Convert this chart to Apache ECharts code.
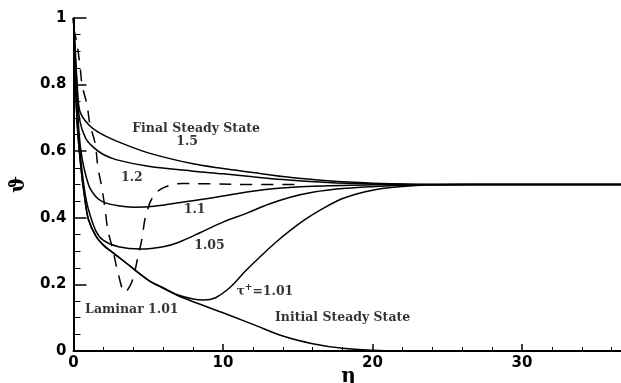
<!DOCTYPE html>
<html lang="en">
  <head>
    <meta charset="UTF-8" />
    <title>theta vs eta</title>
    <script src="https://cdn.jsdelivr.net/npm/echarts@6/dist/echarts.min.js"></script>
    <style>
      html, body { margin: 0; padding: 0; background: #fff; }
    </style>
  </head>
  <body>
    <div id="chart" style="width: 621px; height: 383px"></div>
  </body>
  <script>
    // curve data: [eta, theta]
    const initialState = [[0,1],[0.1,0.86],[0.25,0.68],[0.5,0.55],[0.75,0.46],[1,0.395],[1.5,0.345],[2,0.318],[2.5,0.3],[3.5,0.265],[5,0.213],[6,0.188],[7,0.166],[8,0.148],[10,0.115],[12,0.08],[14,0.045],[16,0.022],[18,0.008],[20,0.002],[22,0]];
    const tau101 = [[0,1],[0.1,0.86],[0.25,0.68],[0.5,0.55],[0.75,0.46],[1,0.395],[1.5,0.345],[2,0.318],[2.5,0.3],[3.5,0.265],[5,0.213],[6,0.19],[7,0.168],[8,0.156],[8.7,0.153],[9.5,0.16],[10.5,0.192],[11.5,0.24],[12.5,0.284],[13.5,0.325],[14.5,0.362],[15.5,0.395],[16.5,0.423],[18,0.458],[20,0.483],[22,0.494],[24,0.499],[26,0.5],[37,0.5]];
    const tau105 = [[0,1],[0.1,0.87],[0.25,0.7],[0.5,0.57],[0.75,0.48],[1,0.425],[1.5,0.36],[2,0.332],[3,0.313],[4.5,0.306],[6,0.313],[7,0.326],[8.5,0.356],[10,0.387],[11.6,0.414],[13,0.44],[14.5,0.462],[16,0.477],[18,0.488],[20.5,0.495],[24,0.499],[27,0.5],[37,0.5]];
    const tau11 = [[0,1],[0.1,0.88],[0.25,0.74],[0.5,0.6],[1,0.5],[1.5,0.463],[2,0.447],[3,0.436],[4,0.432],[5,0.433],[6,0.438],[7,0.445],[9,0.458],[11,0.473],[13,0.486],[16,0.495],[20,0.499],[24,0.5],[37,0.5]];
    const tau12 = [[0,1],[0.1,0.9],[0.25,0.78],[0.43,0.69],[0.8,0.64],[1.3,0.613],[2,0.59],[2.9,0.574],[5,0.555],[8,0.54],[10,0.532],[12,0.523],[14,0.515],[17,0.506],[20,0.502],[24,0.5],[37,0.5]];
    const finalState = [[0,1],[0.1,0.92],[0.25,0.8],[0.43,0.72],[1,0.68],[1.77,0.654],[3,0.628],[5,0.595],[8,0.562],[10,0.548],[12,0.536],[14,0.524],[17,0.511],[20,0.504],[24,0.5],[37,0.5]];
    const laminar = [[0,0.97],[0.2,0.93],[0.43,0.86],[0.57,0.8],[0.9,0.74],[1.1,0.68],[1.44,0.625],[1.64,0.55],[1.9,0.49],[2.1,0.43],[2.3,0.363],[2.64,0.303],[2.98,0.234],[3.44,0.177],[3.9,0.207],[4.3,0.28],[4.6,0.342],[4.8,0.4],[5.3,0.462],[6,0.49],[7.3,0.503],[9,0.502],[12,0.5],[15,0.5]];

    // curve labels, placed in data coordinates
    const labelText = ["Final Steady State", "1.5", "1.2", "1.1", "1.05", "{t|τ}{s|+}{t|=1.01}", "Laminar 1.01", "Initial Steady State"];
    const labelEta = [8.2, 7.6, 3.9, 8.1, 9.1, 12.8, 3.9, 18.0];
    const labelTheta = [0.667, 0.628, 0.52, 0.423, 0.315, 0.177, 0.123, 0.099];

    const yTicks = [0, 0.2, 0.4, 0.6, 0.8, 1];

    let chart = echarts.init(document.getElementById("chart"));

    function curve(data, dashed) {
      return {
        type: "line",
        data: data,
        showSymbol: false,
        smooth: 0.35,
        silent: true,
        lineStyle: {
          color: "#000",
          width: 1.5,
          type: dashed ? [12, 9] : "solid",
        },
        z: 3,
      };
    }

    let textFont = {
      fontFamily: "DejaVu Serif",
      fontWeight: "bold",
      fontSize: 12.5,
      color: "#000",
      textBorderWidth: 0,
    };

    let option = {
      backgroundColor: "#fff",
      animation: false,
      // the axis runs on to 40, the right part falls outside the canvas
      grid: { left: 73.5, right: -50.5, top: 18, bottom: 32, outerBoundsMode: "none", containLabel: false },
      xAxis: {
        type: "value",
        min: 0,
        max: 40,
        interval: 10,
        axisLine: { lineStyle: { color: "#000", width: 2 } },
        axisTick: { inside: true, length: 7, lineStyle: { color: "#000", width: 1.5 } },
        minorTick: { show: true, splitNumber: 5, length: 4, lineStyle: { color: "#000", width: 1 } },
        splitLine: { show: false },
        axisLabel: {
          color: "#000",
          fontFamily: "DejaVu Sans",
          fontWeight: "bold",
          fontSize: 15,
          margin: 5,
        },
      },
      yAxis: {
        type: "value",
        min: 0,
        max: 1,
        interval: 0.2,
        name: "ϑ",
        nameLocation: "middle",
        nameRotate: 90,
        nameGap: 44,
        nameTextStyle: { fontFamily: "DejaVu Serif", fontWeight: "bold", fontSize: 20, color: "#000" },
        axisLine: { show: true, lineStyle: { color: "#000", width: 2 } },
        axisTick: { show: true, inside: true, length: 13, lineStyle: { color: "#000", width: 1.5 } },
        minorTick: { show: true, splitNumber: 4, length: 7, lineStyle: { color: "#000", width: 1 } },
        splitLine: { show: false },
        axisLabel: {
          color: "#000",
          fontFamily: "DejaVu Sans",
          fontWeight: "bold",
          fontSize: 15,
          margin: 7,
          formatter: (v) => (yTicks.some((t) => Math.abs(t - v) < 1e-9) ? String(+v.toFixed(1)) : ""),
        },
      },
      series: [
        curve(initialState),
        curve(tau101),
        curve(tau105),
        curve(tau11),
        curve(tau12),
        curve(finalState),
        curve(laminar, true),
        {
          type: "scatter",
          symbolSize: 0,
          silent: true,
          z: 5,
          data: labelText.map((t, i) => ({
            value: [labelEta[i], labelTheta[i]],
            label: { show: true, formatter: t },
          })),
          label: Object.assign({
            position: [0, 0],
            align: "center",
            verticalAlign: "middle",
            rich: {
              t: textFont,
              s: Object.assign({}, textFont, { fontSize: 9, padding: [0, 0, 8, 0] }),
            },
          }, textFont),
        },
      ],
    };
    chart.setOption(option);

    // x axis name, centred under the visible part of the axis
    let namePos = chart.convertToPixel({ xAxisIndex: 0 }, 18.4);
    chart.setOption({
      graphic: [
        {
          type: "text",
          x: namePos,
          y: 377,
          style: {
            text: "η",
            fontFamily: "DejaVu Serif",
            fontWeight: "bold",
            fontSize: 20,
            fill: "#000",
            align: "center",
            verticalAlign: "middle",
          },
        },
      ],
    });
  </script>
</html>
